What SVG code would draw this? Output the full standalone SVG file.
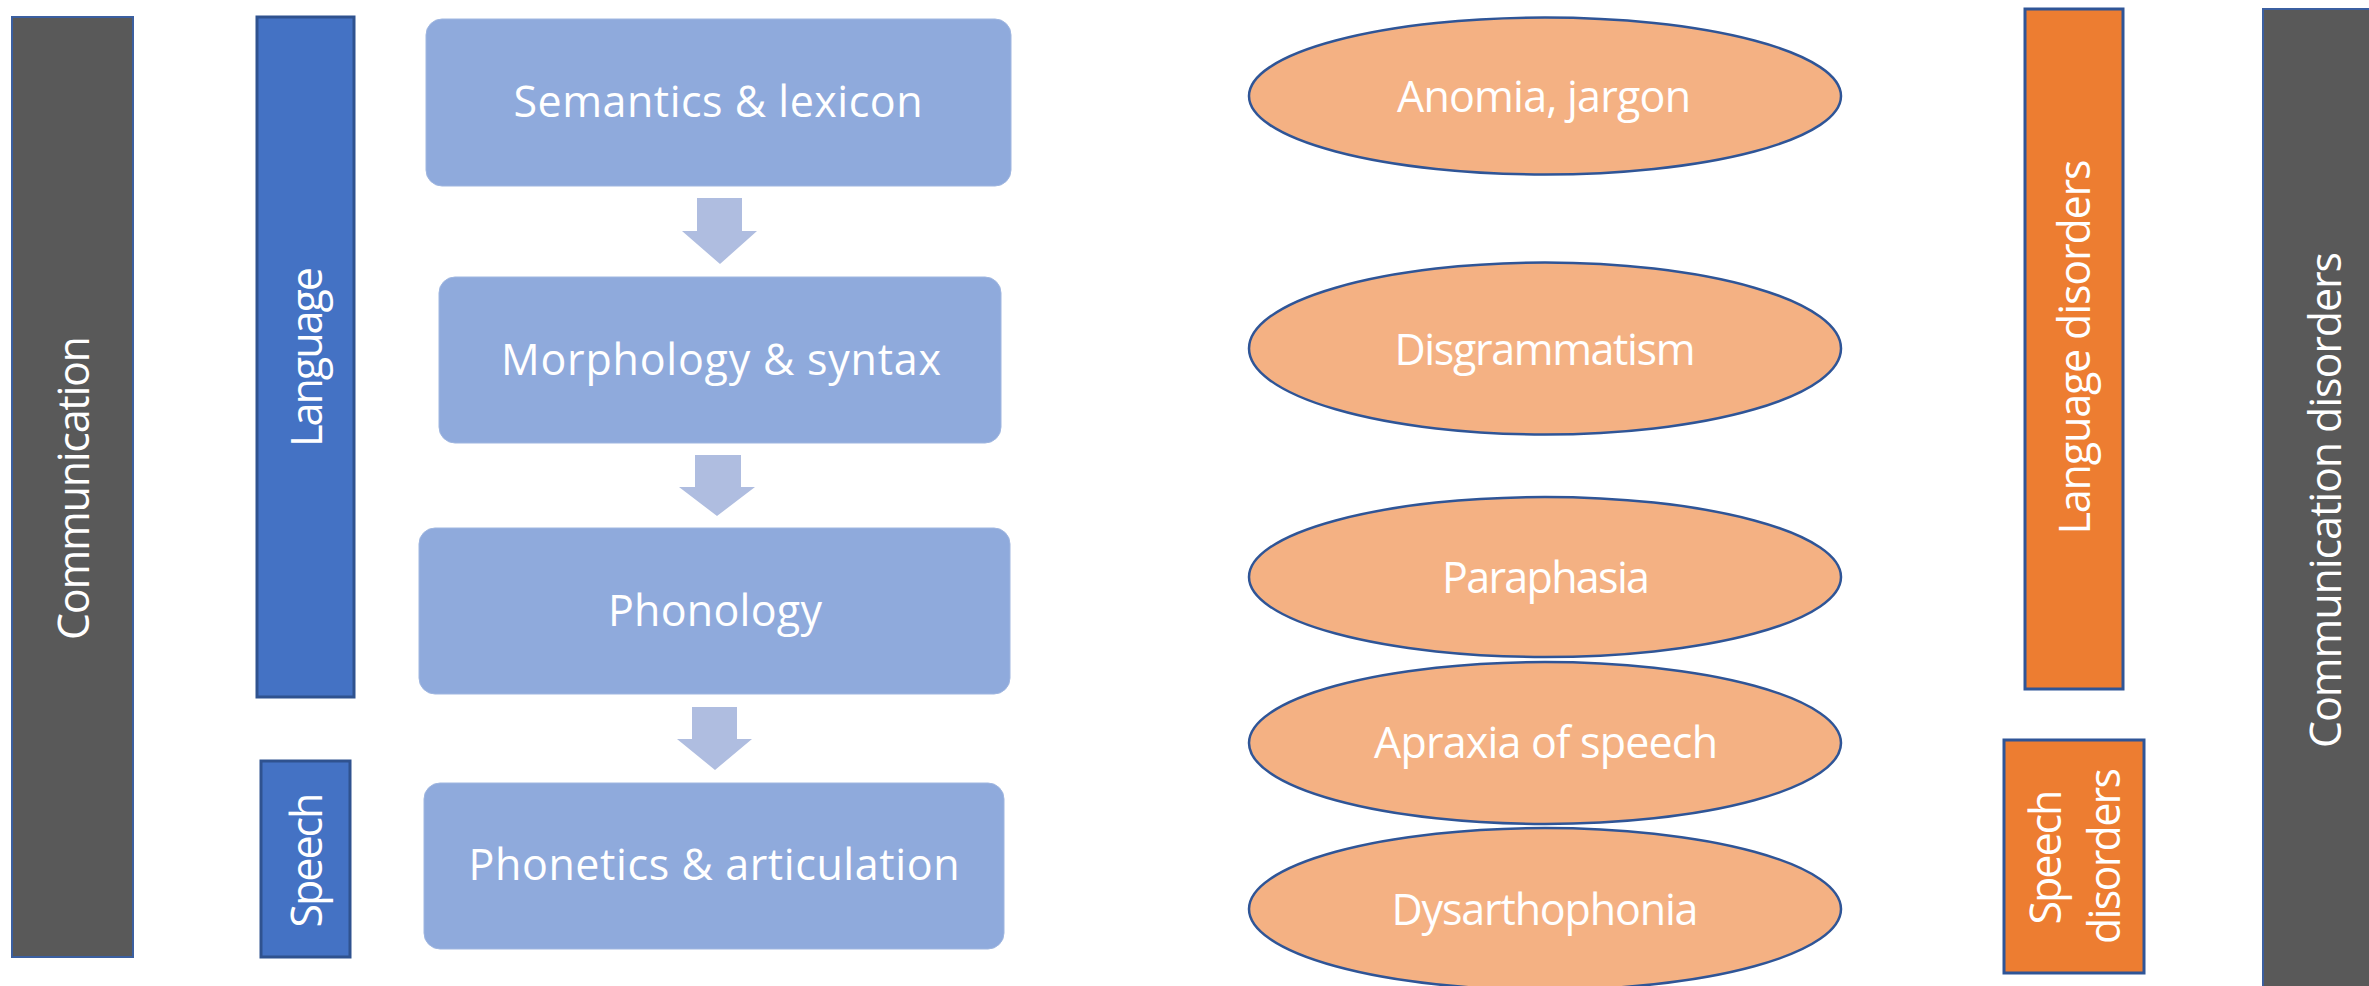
<svg xmlns="http://www.w3.org/2000/svg" width="2369" height="986" viewBox="0 0 2369 986">
  <style>
    .lbl { fill: #ffffff; font-family: "Open Sans", "Lato", "Liberation Sans", sans-serif; font-size: 43px; text-anchor: middle; }
    .level { fill: #8FAADC; stroke: #9FB6E0; stroke-width: 1; }
    .disorder { fill: #F4B183; stroke: #2F5597; stroke-width: 2.5; }
    .bar-grey { fill: #595959; stroke: #3B5FA0; stroke-width: 2; }
    .bar-blue { fill: #4472C4; stroke: #2F528F; stroke-width: 3; }
    .bar-orange { fill: #ED7D31; stroke: #2F5597; stroke-width: 3; }
    .flow { fill: #AFBDE0; }
  </style>

  <rect width="2369" height="986" fill="#ffffff"/>

  <!-- left side: domains -->
  <g id="communication">
    <rect class="bar-grey" x="12" y="17" width="121" height="940"/>
    <text class="lbl" transform="translate(89,488) rotate(-90)" textLength="304">Communication</text>
  </g>
  <g id="language">
    <rect class="bar-blue" x="257" y="17" width="97" height="680"/>
    <text class="lbl" transform="translate(322,357) rotate(-90)" textLength="180">Language</text>
  </g>
  <g id="speech">
    <rect class="bar-blue" x="261" y="761" width="89" height="196"/>
    <text class="lbl" transform="translate(322,860) rotate(-90)" textLength="135">Speech</text>
  </g>

  <!-- processing levels -->
  <g id="semantics">
    <rect class="level" x="426" y="19" width="585" height="167" rx="16" ry="16"/>
    <text class="lbl" x="718" y="117" textLength="409">Semantics &amp; lexicon</text>
  </g>
  <g id="morphology">
    <rect class="level" x="439" y="277" width="562" height="166" rx="16" ry="16"/>
    <text class="lbl" x="721" y="375" textLength="440">Morphology &amp; syntax</text>
  </g>
  <g id="phonology">
    <rect class="level" x="419" y="528" width="591" height="166" rx="16" ry="16"/>
    <text class="lbl" x="715" y="626" textLength="214">Phonology</text>
  </g>
  <g id="phonetics">
    <rect class="level" x="424" y="783" width="580" height="166" rx="16" ry="16"/>
    <text class="lbl" x="714" y="880" textLength="491">Phonetics &amp; articulation</text>
  </g>

  <!-- downward block arrows between levels -->
  <g id="connectors">
    <polygon class="flow" points="697,198 742,198 742,231 757,231 720,264 682,231 697,231"/>
    <polygon class="flow" points="695,455 741,455 741,487 755,487 717,516 679,487 695,487"/>
    <polygon class="flow" points="692,707 737,707 737,739 752,739 715,770 677,739 692,739"/>
  </g>

  <!-- disorders -->
  <g id="anomia">
    <ellipse class="disorder" cx="1545" cy="96" rx="296" ry="78.5"/>
    <text class="lbl" x="1544" y="112" textLength="294">Anomia, jargon</text>
  </g>
  <g id="disgrammatism">
    <ellipse class="disorder" cx="1545" cy="348.5" rx="296" ry="86"/>
    <text class="lbl" x="1545" y="365" textLength="301">Disgrammatism</text>
  </g>
  <g id="paraphasia">
    <ellipse class="disorder" cx="1545" cy="577" rx="296" ry="80"/>
    <text class="lbl" x="1546" y="593" textLength="208">Paraphasia</text>
  </g>
  <g id="apraxia">
    <ellipse class="disorder" cx="1545" cy="743" rx="296" ry="81"/>
    <text class="lbl" x="1546" y="758" textLength="344">Apraxia of speech</text>
  </g>
  <g id="dysarthophonia">
    <ellipse class="disorder" cx="1545" cy="909" rx="296" ry="81"/>
    <text class="lbl" x="1545" y="925" textLength="307">Dysarthophonia</text>
  </g>

  <!-- right side: disorder classes -->
  <g id="language-disorders">
    <rect class="bar-orange" x="2025" y="9" width="98" height="680"/>
    <text class="lbl" transform="translate(2090,347) rotate(-90)" textLength="375">Language disorders</text>
  </g>
  <g id="speech-disorders">
    <rect class="bar-orange" x="2004" y="740" width="140" height="233"/>
    <text class="lbl" transform="translate(2061,857) rotate(-90)" textLength="135">Speech</text>
    <text class="lbl" transform="translate(2120,856) rotate(-90)" textLength="176">disorders</text>
  </g>
  <g id="communication-disorders">
    <rect class="bar-grey" x="2263" y="9" width="125" height="990"/>
    <text class="lbl" transform="translate(2341,500) rotate(-90)" textLength="496">Communication disorders</text>
  </g>
</svg>
